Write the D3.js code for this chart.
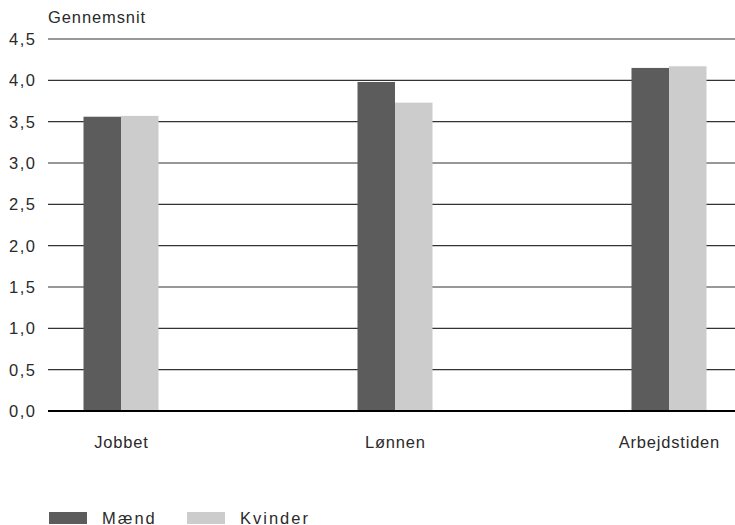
<!DOCTYPE html>
<html>
<head>
<meta charset="utf-8">
<script src="https://cdn.jsdelivr.net/npm/d3@7"></script>
<style>
	body { margin: 0; background: #fff; }
	text { font-family: "Liberation Sans", Arial, sans-serif; fill: #2a2a2a; }
</style>
</head>
<body>
<svg id="chart" width="735" height="525"></svg>
<script>
( function() {

	"use strict";

	var categories = [ "Jobbet", "Lønnen", "Arbejdstiden" ],
		seriesNames = [ "Mænd", "Kvinder" ],
		maend = [ 3.56, 3.98, 4.15 ],
		kvinder = [ 3.57, 3.73, 4.17 ],
		yTicks = [ 0, 0.5, 1, 1.5, 2, 2.5, 3, 3.5, 4, 4.5 ],
		colors = [ "#5c5c5c", "#cccccc" ];

	var svg = d3.select( "#chart" ),
		left = 48, right = 735, top = 39, bottom = 411,
		barWidth = 37.5;

	var y = d3.scaleLinear().domain( [ 0, 4.5 ] ).range( [ bottom, top ] ),
		x = d3.scalePoint().domain( categories ).range( [ 121, 669 ] ),
		fmt = function( d ) { return d3.format( ".1f" )( d ).replace( ".", "," ); };

	//gridlines
	svg.append( "g" ).selectAll( "line" ).data( yTicks.filter( function( d ) { return d > 0; } ) )
		.enter().append( "line" )
			.attr( "x1", left ).attr( "x2", right )
			.attr( "y1", function( d ) { return y( d ); } )
			.attr( "y2", function( d ) { return y( d ); } )
			.attr( "stroke", "#333" ).attr( "stroke-width", 1.2 );

	//y tick labels (trailing letter-spacing pushes the end left, so add it back)
	svg.append( "g" ).selectAll( "text" ).data( yTicks )
		.enter().append( "text" )
			.attr( "x", 36.5 )
			.attr( "y", function( d ) { return y( d ) + 6; } )
			.attr( "text-anchor", "end" )
			.style( "font-size", "16.5px" )
			.style( "letter-spacing", "1.5px" )
			.text( fmt );

	svg.append( "text" )
		.attr( "x", 48 ).attr( "y", 23 )
		.style( "font-size", "16.5px" )
		.style( "letter-spacing", "0.9px" )
		.text( "Gennemsnit" );

	//bars
	var series = [ maend, kvinder ];
	series.forEach( function( values, s ) {
		svg.append( "g" ).selectAll( "rect" ).data( values )
			.enter().append( "rect" )
				.attr( "x", function( d, i ) { return x( categories[ i ] ) + ( s - 1 ) * barWidth; } )
				.attr( "y", function( d ) { return y( d ); } )
				.attr( "width", barWidth )
				.attr( "height", function( d ) { return bottom - y( d ); } )
				.attr( "fill", colors[ s ] );
	} );

	//zero line
	svg.append( "line" )
		.attr( "x1", left ).attr( "x2", right )
		.attr( "y1", y( 0 ) ).attr( "y2", y( 0 ) )
		.attr( "stroke", "#000" ).attr( "stroke-width", 2.2 );

	//category labels
	svg.append( "g" ).selectAll( "text" ).data( categories )
		.enter().append( "text" )
			.attr( "x", function( d ) { return x( d ) + 0.4; } )
			.attr( "y", 448 )
			.attr( "text-anchor", "middle" )
			.style( "font-size", "16.5px" )
			.style( "letter-spacing", "0.8px" )
			.text( function( d ) { return d; } );

	//legend
	var legend = svg.append( "g" ).selectAll( "g" ).data( seriesNames )
		.enter().append( "g" )
			.attr( "transform", function( d, i ) { return "translate(" + ( 49 + i * 138 ) + ",512)"; } );
	legend.append( "rect" )
		.attr( "width", 38 ).attr( "height", 12 )
		.attr( "fill", function( d, i ) { return colors[ i ]; } );
	legend.append( "text" )
		.attr( "x", 53 ).attr( "y", 11.5 )
		.style( "font-size", "16.5px" )
		.style( "letter-spacing", "2px" )
		.text( function( d ) { return d; } );

} )();
</script>
</body>
</html>
